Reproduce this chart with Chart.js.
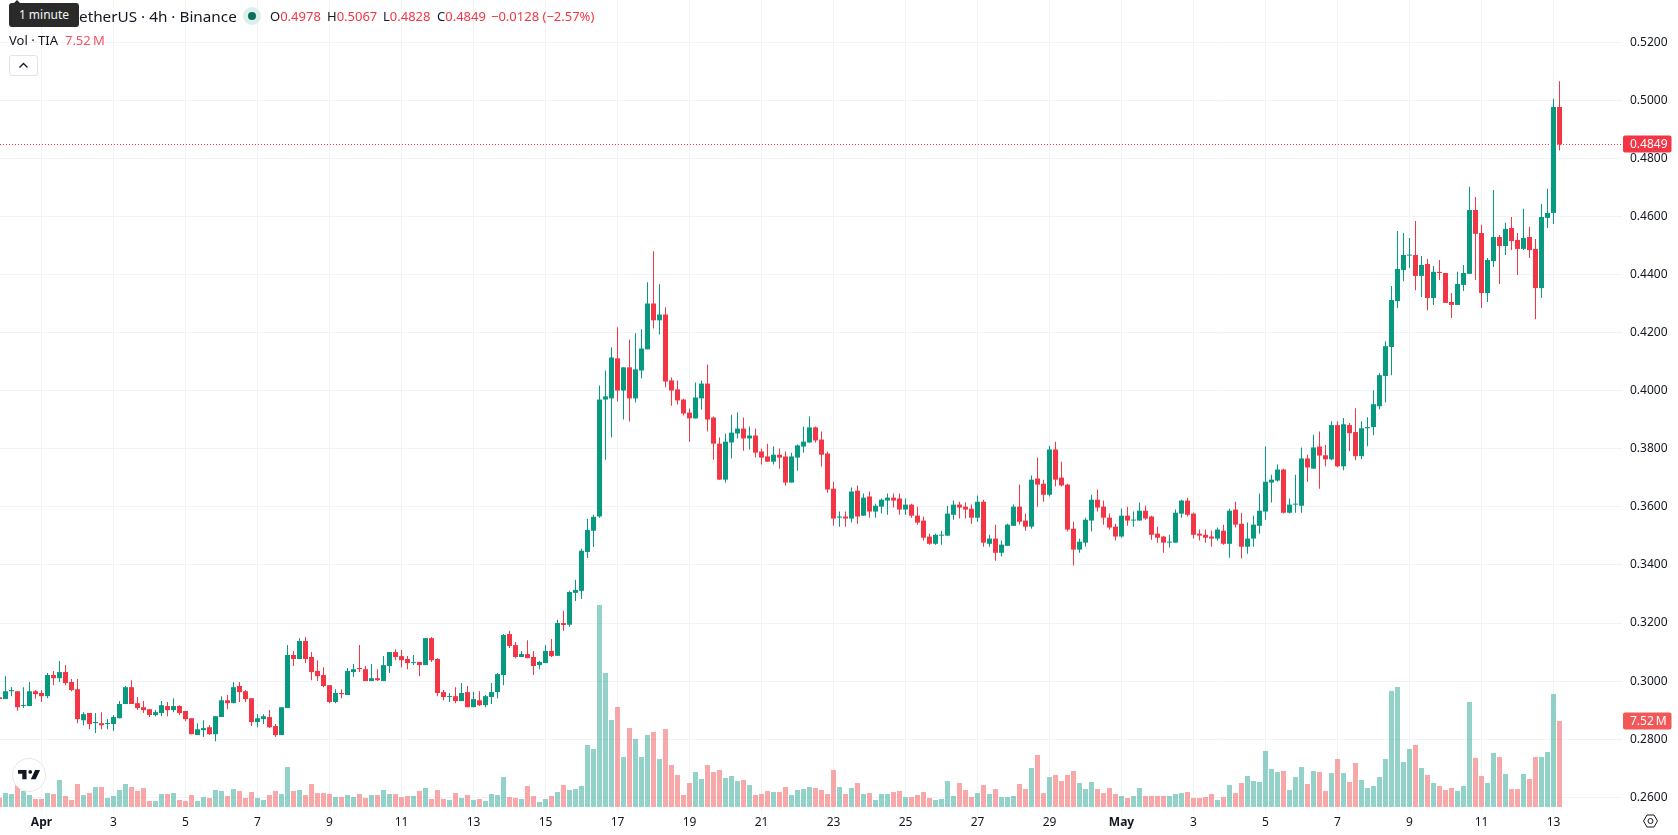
<!DOCTYPE html>
<html lang="en">
<head>
<meta charset="utf-8">
<title>TIA / TetherUS 4h</title>
<script src="https://cdn.jsdelivr.net/npm/chart.js@4"></script>
<style>
  html, body { margin: 0; padding: 0; background: #fff; }
  body { position: relative; width: 1678px; height: 835px; overflow: hidden;
         font-family: "Noto Sans", sans-serif; color: #131722; }
  canvas { position: absolute; left: 0; top: 0; }
  .abs { position: absolute; white-space: nowrap; pointer-events: none; }
  .red { color: #f23645; }
  #tip { left: 9px; top: 3px; width: 70px; height: 24px; line-height: 24px; border-radius: 3px;
         background: #2a2a2a; color: #f5f5f5; font-size: 12px; text-align: center; }
  #tip-arrow { left: 13px; top: 0; width: 0; height: 0; border-left: 4px solid transparent;
               border-right: 4px solid transparent; border-bottom: 4px solid #2a2a2a; }
  #title { left: 79px; top: 4px; font-size: 15.3px; line-height: 24px; }
  #dot { left: 242.5px; top: 7px; width: 18px; height: 18px; border-radius: 50%; background: #dbf0ec; }
  #dot i { position: absolute; left: 5px; top: 5px; width: 8px; height: 8px; border-radius: 50%; background: #0b6e5c; }
  .ohlc { top: 7px; font-size: 13px; line-height: 18px; }
  #vol-row { left: 9px; top: 31px; font-size: 13px; line-height: 18px; }
  #vol-row b { font-weight: 400; color: #f7525f; margin-left: 7px; }
  #toggle { left: 9px; top: 55px; width: 27px; height: 19px; border: 1px solid #e0e3eb; border-radius: 3px; background: #fff; }
  #logo { left: 12px; top: 758px; width: 32px; height: 32px; border: 1px solid #e6e6e6; border-radius: 50%;
          background: rgba(255,255,255,.9); }
</style>
</head>
<body>
<canvas id="price-chart" width="1678" height="835"></canvas>

<div class="abs" id="title">etherUS · 4h · Binance</div>
<div class="abs" id="tip-arrow"></div>
<div class="abs" id="tip">1 minute</div>
<div class="abs" id="dot"><i></i></div>
<div class="abs ohlc" style="left:270px">O<span class="red" id="o-val"></span></div>
<div class="abs ohlc" style="left:327px">H<span class="red" id="h-val"></span></div>
<div class="abs ohlc" style="left:383px">L<span class="red" id="l-val"></span></div>
<div class="abs ohlc" style="left:437px">C<span class="red" id="c-val"></span></div>
<div class="abs ohlc red" style="left:491px" id="chg-val"></div>
<div class="abs" id="vol-row">Vol · TIA<b id="vol-val"></b></div>
<div class="abs" id="toggle">
  <svg width="27" height="19" viewBox="0 0 27 19"><path d="M9.5 11.5 L13.5 7.5 L17.5 11.5" fill="none" stroke="#131722" stroke-width="1.3"/></svg>
</div>
<div class="abs" id="logo">
  <svg style="position:absolute;left:5px;top:10px" width="22" height="12" viewBox="0 6 36 16"><path d="M14 6H0v6h7v9h7V6zm15 15h-8l7-15h8l-7 15z" fill="#131722"/><circle cx="20" cy="9" r="3" fill="#131722"/></svg>
</div>

<script>
/* ── Data: 4h candles, oldest first ───────────────── */
const opens = [
  .2944,.2938,.2965,.2965,.2914,.2914,.2965,.2959,.2948,.3021,
  .3010,.3031,.2997,.2972,.2865,.2890,.2855,.2855,.2852,.2852,
  .2872,.2921,.2979,.2924,.2910,.2903,.2883,.2890,.2914,.2900,
  .2914,.2897,.2872,.2814,.2831,.2841,.2817,.2876,.2934,.2924,
  .2983,.2965,.2941,.2859,.2869,.2876,.2845,.2814,.2907,.3090,
  .3076,.3138,.3083,.3035,.3021,.2986,.2928,.2959,.2952,.3031,
  .3045,.3041,.3000,.3010,.3000,.3052,.3100,.3086,.3076,.3062,
  .3066,.3055,.3148,.3076,.2962,.2945,.2948,.2931,.2962,.2910,
  .2934,.2917,.2945,.2962,.3021,.3162,.3124,.3083,.3093,.3083,
  .3055,.3062,.3104,.3087,.3200,.3194,.3304,.3311,.3445,.3518,
  .3567,.3970,.3974,.4112,.4001,.4081,.3974,.4070,.4143,.4301,
  .4243,.4263,.4036,.4005,.3970,.3925,.3905,.3974,.4025,.3908,
  .3818,.3694,.3822,.3853,.3870,.3836,.3846,.3791,.3774,.3756,
  .3780,.3774,.3684,.3770,.3808,.3822,.3874,.3832,.3784,.3663,
  .3563,.3567,.3560,.3656,.3570,.3636,.3584,.3601,.3622,.3632,
  .3629,.3591,.3608,.3570,.3553,.3498,.3473,.3501,.3501,.3573,
  .3608,.3601,.3594,.3563,.3618,.3473,.3491,.3442,.3466,.3535,
  .3601,.3553,.3532,.3698,.3680,.3642,.3798,.3701,.3677,.3525,
  .3453,.3477,.3553,.3625,.3601,.3563,.3532,.3498,.3570,.3553,
  .3553,.3587,.3567,.3508,.3498,.3477,.3477,.3577,.3622,.3577,
  .3508,.3504,.3498,.3491,.3518,.3473,.3591,.3542,.3463,.3491,
  .3535,.3584,.3684,.3691,.3729,.3580,.3608,.3604,.3767,.3732,
  .3808,.3778,.3764,.3882,.3740,.3882,.3858,.3775,.3871,.3875,
  .3947,.4051,.4151,.4309,.4416,.4466,.4468,.4396,.4437,.4320,
  .4410,.4406,.4306,.4296,.4365,.4403,.4623,.4544,.4337,.4447,
  .4530,.4499,.4561,.4520,.4489,.4530,.4489,.4354,.4596,.4613,
  .4978
];
const highs = [
  .2948,.3017,.2980,.2965,.2979,.2997,.2969,.2969,.3028,.3035,
  .3069,.3055,.3007,.3007,.2893,.2890,.2890,.2893,.2869,.2883,
  .2931,.2983,.3003,.2945,.2931,.2903,.2900,.2931,.2928,.2941,
  .2917,.2897,.2872,.2855,.2865,.2848,.2879,.2948,.2952,.2997,
  .2997,.2969,.2941,.2886,.2886,.2900,.2852,.2910,.3124,.3104,
  .3148,.3152,.3100,.3072,.3048,.2986,.2972,.2972,.3045,.3059,
  .3124,.3052,.3059,.3041,.3086,.3100,.3110,.3107,.3086,.3090,
  .3066,.3148,.3152,.3079,.2969,.2959,.2979,.2993,.2983,.2962,
  .2965,.2952,.2993,.3028,.3162,.3173,.3135,.3104,.3141,.3104,
  .3069,.3124,.3145,.3211,.3242,.3311,.3349,.3456,.3559,.3573,
  .4018,.4070,.4150,.4219,.4081,.4177,.4198,.4212,.4374,.4481,
  .4367,.4288,.4046,.4036,.3974,.3939,.4029,.4036,.4091,.3912,
  .3839,.3853,.3918,.3925,.3908,.3877,.3870,.3801,.3818,.3808,
  .3801,.3791,.3787,.3815,.3877,.3912,.3877,.3860,.3791,.3687,
  .3584,.3584,.3667,.3674,.3646,.3653,.3611,.3629,.3646,.3646,
  .3646,.3629,.3611,.3601,.3567,.3508,.3508,.3518,.3604,.3622,
  .3618,.3615,.3608,.3639,.3625,.3504,.3539,.3484,.3542,.3608,
  .3677,.3577,.3708,.3770,.3694,.3811,.3825,.3756,.3680,.3549,
  .3491,.3563,.3642,.3660,.3622,.3577,.3542,.3594,.3601,.3584,
  .3615,.3604,.3570,.3532,.3501,.3504,.3591,.3625,.3632,.3580,
  .3522,.3522,.3518,.3529,.3539,.3594,.3618,.3580,.3546,.3570,
  .3646,.3808,.3711,.3746,.3732,.3629,.3711,.3805,.3780,.3849,
  .3860,.3813,.3895,.3895,.3906,.3889,.3940,.3895,.3909,.4002,
  .4061,.4171,.4361,.4551,.4544,.4527,.4585,.4465,.4454,.4430,
  .4451,.4406,.4337,.4410,.4434,.4703,.4668,.4572,.4458,.4692,
  .4537,.4579,.4599,.4544,.4627,.4565,.4523,.4644,.4696,.5006,
  .5067
];
const lows = [
  .2934,.2938,.2948,.2898,.2907,.2914,.2939,.2928,.2941,.2986,
  .2997,.2986,.2965,.2855,.2848,.2834,.2821,.2834,.2834,.2828,
  .2872,.2921,.2921,.2900,.2890,.2876,.2879,.2879,.2879,.2893,
  .2883,.2862,.2817,.2814,.2807,.2814,.2793,.2876,.2903,.2924,
  .2928,.2928,.2845,.2841,.2852,.2838,.2807,.2814,.2907,.3052,
  .3076,.3062,.3003,.3000,.2979,.2924,.2924,.2941,.2952,.3014,
  .3031,.3000,.3000,.3000,.3000,.3028,.3072,.3048,.3041,.3055,
  .3017,.3055,.3066,.2948,.2934,.2928,.2924,.2931,.2910,.2910,
  .2914,.2910,.2921,.2941,.2986,.3114,.3079,.3083,.3079,.3021,
  .3041,.3062,.3083,.3087,.3173,.3187,.3276,.3283,.3424,.3462,
  .3563,.3763,.3839,.3963,.3901,.3894,.3960,.4043,.4143,.4215,
  .4194,.4012,.3949,.3953,.3915,.3825,.3905,.3936,.3860,.3763,
  .3694,.3684,.3767,.3836,.3794,.3798,.3770,.3746,.3756,.3746,
  .3732,.3673,.3684,.3725,.3787,.3822,.3822,.3739,.3649,.3535,
  .3532,.3532,.3546,.3542,.3570,.3563,.3563,.3577,.3573,.3598,
  .3573,.3573,.3563,.3539,.3484,.3470,.3470,.3470,.3501,.3556,
  .3560,.3560,.3542,.3549,.3463,.3463,.3415,.3429,.3466,.3535,
  .3539,.3518,.3525,.3601,.3618,.3636,.3670,.3670,.3515,.3398,
  .3442,.3463,.3515,.3584,.3539,.3522,.3484,.3494,.3535,.3532,
  .3553,.3556,.3487,.3477,.3442,.3460,.3477,.3563,.3567,.3491,
  .3484,.3477,.3463,.3484,.3470,.3425,.3529,.3422,.3439,.3463,
  .3508,.3556,.3615,.3687,.3577,.3577,.3580,.3580,.3687,.3732,
  .3663,.3740,.3761,.3737,.3726,.3792,.3761,.3764,.3809,.3847,
  .3937,.3961,.4054,.4285,.4378,.4423,.4347,.4323,.4278,.4296,
  .4382,.4303,.4251,.4296,.4344,.4403,.4382,.4285,.4306,.4427,
  .4368,.4468,.4485,.4399,.4485,.4458,.4247,.4320,.4561,.4575,
  .4828
];
const closes = [
  .2938,.2965,.2969,.2910,.2917,.2965,.2955,.2948,.3021,.3010,
  .3031,.2993,.2969,.2869,.2886,.2852,.2859,.2848,.2855,.2876,
  .2921,.2979,.2921,.2907,.2900,.2883,.2893,.2917,.2900,.2914,
  .2890,.2869,.2817,.2834,.2838,.2817,.2879,.2934,.2924,.2979,
  .2962,.2938,.2859,.2872,.2879,.2841,.2814,.2910,.3090,.3076,
  .3138,.3076,.3031,.3017,.2983,.2928,.2959,.2955,.3035,.3041,
  .3041,.3000,.3010,.3003,.3055,.3100,.3083,.3072,.3062,.3064,
  .3055,.3148,.3072,.2959,.2945,.2948,.2931,.2959,.2910,.2938,
  .2917,.2948,.2962,.3024,.3159,.3121,.3083,.3093,.3079,.3052,
  .3066,.3104,.3086,.3200,.3193,.3307,.3314,.3449,.3521,.3566,
  .3970,.3981,.4115,.4001,.4081,.3974,.4074,.4146,.4301,.4243,
  .4263,.4032,.4001,.3967,.3922,.3905,.3977,.4025,.3901,.3818,
  .3694,.3825,.3856,.3870,.3836,.3846,.3787,.3770,.3756,.3780,
  .3770,.3684,.3774,.3812,.3825,.3874,.3829,.3780,.3660,.3560,
  .3567,.3560,.3653,.3567,.3632,.3584,.3604,.3625,.3632,.3622,
  .3591,.3608,.3570,.3546,.3494,.3473,.3504,.3504,.3577,.3608,
  .3598,.3591,.3563,.3618,.3477,.3491,.3442,.3470,.3539,.3601,
  .3549,.3532,.3694,.3677,.3642,.3798,.3694,.3674,.3522,.3453,
  .3480,.3556,.3625,.3598,.3563,.3529,.3498,.3570,.3553,.3556,
  .3587,.3560,.3504,.3494,.3477,.3480,.3580,.3622,.3573,.3504,
  .3501,.3494,.3491,.3522,.3473,.3587,.3539,.3463,.3491,.3539,
  .3587,.3687,.3694,.3729,.3580,.3608,.3611,.3767,.3736,.3805,
  .3777,.3764,.3882,.3740,.3885,.3854,.3775,.3871,.3875,.3954,
  .4054,.4154,.4313,.4420,.4468,.4468,.4396,.4434,.4320,.4410,
  .4406,.4303,.4296,.4368,.4406,.4623,.4541,.4337,.4451,.4530,
  .4499,.4558,.4516,.4489,.4527,.4485,.4354,.4599,.4613,.4978,
  .4849
];
// volume per candle, in millions
const volumes = [
  .82,1.22,1.14,1.92,1.40,1.05,.70,.70,1.22,1.14,
  2.36,.96,.61,2.01,1.05,1.22,1.75,1.75,.79,.96,
  1.49,2.01,1.75,1.40,1.66,.52,.52,1.14,1.14,1.22,
  .61,.52,1.05,.52,.87,.79,1.49,1.40,.96,1.57,
  1.40,.79,1.31,.79,.61,1.05,1.40,1.14,3.50,1.40,
  1.49,1.05,2.01,1.22,1.22,1.14,.87,.87,1.05,.87,
  1.14,.79,1.05,1.05,1.49,1.14,1.14,.87,.96,.96,
  1.40,1.66,.70,1.49,.70,.61,1.22,.79,1.05,.61,
  .70,.52,1.14,1.05,2.62,.87,.79,.70,1.84,.96,
  .44,.70,.96,1.31,1.92,1.49,1.57,1.84,5.42,5.07,
  17.67,11.72,7.61,8.75,4.37,6.91,5.95,4.37,6.30,6.56,
  4.20,6.82,3.67,2.80,1.05,2.10,3.06,2.45,3.67,3.06,
  3.24,2.54,2.71,2.27,2.36,1.92,1.05,1.14,1.40,1.31,
  1.31,1.75,1.05,1.49,1.57,1.75,1.66,1.49,1.14,3.24,
  1.75,1.14,1.66,2.10,1.14,1.22,.61,1.14,1.14,1.31,
  1.40,.87,.87,1.05,1.31,.79,.61,.70,2.27,.96,
  2.10,1.49,.87,1.22,1.92,1.14,1.57,.87,.87,.96,
  2.01,1.57,3.41,4.55,1.22,2.62,2.80,2.27,2.80,3.15,
  2.10,1.57,2.19,1.57,1.22,1.66,1.14,.96,.79,.96,
  1.66,.96,.96,.96,.96,.96,1.14,1.22,1.31,.79,
  .79,.87,1.14,.61,.87,1.92,1.22,2.10,2.71,2.27,
  2.19,4.90,3.32,3.06,3.15,1.49,2.62,3.50,2.01,3.15,
  3.06,1.40,2.97,4.20,2.97,2.19,3.85,2.36,1.66,1.84,
  2.62,4.20,10.15,10.50,3.94,5.07,5.42,3.41,2.80,2.10,
  1.84,1.49,1.66,1.40,1.84,9.18,4.29,2.71,2.10,4.72,
  4.37,2.89,1.57,1.57,2.89,2.45,4.37,4.37,4.81,9.88,
  7.52
];

const priceTicks = [.26,.28,.30,.32,.34,.36,.38,.40,.42,.44,.46,.48,.50,.52];
const timeLabels = ["Apr","3","5","7","9","11","13","15","17","19","21","23","25","27","29","May","3","5","7","9","11","13"];
const timeSlots  = [7,19,31,43,55,67,79,91,103,115,127,139,151,163,175,187,199,211,223,235,247,259];
const monthLabels = ["Apr", "May"];

const UP = "#089981", DOWN = "#f23645";
const UP_VOL = "rgba(8,153,129,.44)", DOWN_VOL = "rgba(240,70,70,.47)";
const TEXT = "#131722", GRID = "#f2f3f5";
const FONT = '"Noto Sans", sans-serif';

const last = closes.length - 1;
const isUp = i => closes[i] >= opens[i];

/* ── Header values ────────────────────────────────── */
document.getElementById("o-val").textContent = opens[last].toFixed(4);
document.getElementById("h-val").textContent = highs[last].toFixed(4);
document.getElementById("l-val").textContent = lows[last].toFixed(4);
document.getElementById("c-val").textContent = closes[last].toFixed(4);
document.getElementById("chg-val").textContent = "−0.0128 (−2.57%)";
document.getElementById("vol-val").textContent = volumes[last].toFixed(2) + "\u2009M";

/* ── Last price line, axis tags, settings glyph ───── */
const lastPriceLine = {
  id: "lastPriceLine",
  beforeDatasetsDraw(chart) {
    const { ctx, chartArea, scales } = chart;
    const y = Math.round(scales.y.getPixelForValue(closes[last])) + .5;
    ctx.save();
    ctx.strokeStyle = DOWN;
    ctx.lineWidth = 1;
    ctx.setLineDash([1, 2]);
    ctx.beginPath();
    ctx.moveTo(chartArea.left, y);
    ctx.lineTo(chartArea.right, y);
    ctx.stroke();
    ctx.restore();
  }
};

function drawTag(ctx, y, color, text) {
  ctx.fillStyle = color;
  ctx.beginPath();
  ctx.roundRect(1623, Math.round(y) - 8.5, 48.5, 17, 2);
  ctx.fill();
  ctx.fillStyle = "#fff";
  ctx.font = "12px " + FONT;
  ctx.textAlign = "left";
  ctx.textBaseline = "middle";
  ctx.fillText(text, 1630, Math.round(y) + .5);
}

const axisTags = {
  id: "axisTags",
  afterDraw(chart) {
    const { ctx, scales } = chart;
    ctx.save();
    drawTag(ctx, scales.y.getPixelForValue(closes[last]), DOWN, closes[last].toFixed(4));
    drawTag(ctx, scales.yVol.getPixelForValue(volumes[last]), "#f25858", volumes[last].toFixed(2) + "\u2009M");

    // settings hexagon in the corner of the axes
    const cx = 1650.5, cy = 821;
    ctx.strokeStyle = TEXT;
    ctx.lineWidth = 1;
    ctx.beginPath();
    ctx.moveTo(cx - 7, cy);
    ctx.lineTo(cx - 3.5, cy - 6);
    ctx.lineTo(cx + 3.5, cy - 6);
    ctx.lineTo(cx + 7, cy);
    ctx.lineTo(cx + 3.5, cy + 6);
    ctx.lineTo(cx - 3.5, cy + 6);
    ctx.closePath();
    ctx.stroke();
    ctx.beginPath();
    ctx.arc(cx, cy, 2.5, 0, Math.PI * 2);
    ctx.stroke();
    ctx.restore();
  }
};

/* ── Chart ────────────────────────────────────────── */
const barBase = {
  type: "bar",
  grouped: false,
  barPercentage: 1,
  categoryPercentage: 1,
  inflateAmount: 0,
  borderWidth: 0
};

// keep the plot flush with the canvas: no room reserved for end labels
function fixAxisBox(axis, size) {
  if (axis.isHorizontal()) axis.height = size;
  else axis.width = size;
  axis.paddingTop = axis.paddingBottom = axis.paddingLeft = axis.paddingRight = 0;
}

new Chart(document.getElementById("price-chart"), {
  type: "bar",
  plugins: [lastPriceLine, axisTags],
  data: {
    datasets: [
      {
        ...barBase, label: "Body", order: 1, yAxisID: "y", maxBarThickness: 5, minBarLength: 1,
        data: opens.map((o, i) => ({ x: i, y: [o, closes[i]] })),
        backgroundColor: opens.map((_, i) => isUp(i) ? UP : DOWN)
      },
      {
        ...barBase, label: "Wick", order: 2, yAxisID: "y", maxBarThickness: 1,
        data: lows.map((l, i) => ({ x: i, y: [l, highs[i]] })),
        backgroundColor: opens.map((_, i) => isUp(i) ? UP : DOWN)
      },
      {
        ...barBase, label: "Vol", order: 3, yAxisID: "yVol", maxBarThickness: 5,
        data: volumes.map((v, i) => ({ x: i, y: v })),
        backgroundColor: opens.map((_, i) => isUp(i) ? UP_VOL : DOWN_VOL)
      }
    ]
  },
  options: {
    responsive: false,
    animation: false,
    layout: { padding: 0, autoPadding: false },
    plugins: { legend: { display: false }, tooltip: { enabled: false } },
    scales: {
      x: {
        type: "linear",
        offset: false,
        min: 0.0833,
        max: 270.4167,
        afterBuildTicks: axis => { axis.ticks = timeSlots.map(v => ({ value: v })); },
        afterFit: axis => fixAxisBox(axis, 22),
        border: { display: false },
        grid: { color: GRID, drawTicks: false, offset: false },
        ticks: {
          autoSkip: false,
          maxRotation: 0,
          padding: 2,
          color: TEXT,
          font: ctx => ({
            family: FONT,
            size: 12,
            weight: monthLabels.includes(timeLabels[ctx.index]) ? "700" : "400"
          }),
          callback: (v, i) => timeLabels[i]
        }
      },
      y: {
        position: "right",
        min: 0.25455,
        max: 0.53466,
        afterBuildTicks: axis => { axis.ticks = priceTicks.map(v => ({ value: v })); },
        afterFit: axis => fixAxisBox(axis, 56),
        border: { display: false },
        grid: { color: GRID, drawTicks: false },
        ticks: {
          padding: 8,
          color: TEXT,
          font: { family: FONT, size: 12 },
          callback: v => v.toFixed(4)
        }
      },
      yVol: {
        display: false,
        min: -0.5247,
        max: 70.57
      }
    }
  }
});
</script>
</body>
</html>
